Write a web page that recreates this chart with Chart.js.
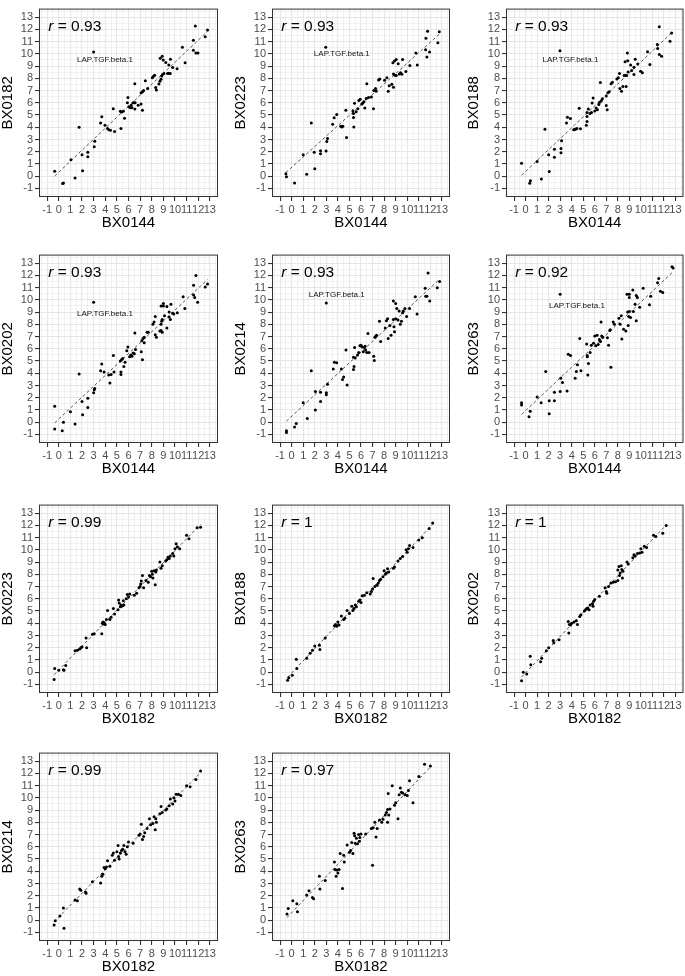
<!DOCTYPE html>
<html>
<head>
<meta charset="utf-8">
<script src="https://cdn.jsdelivr.net/npm/chart.js@4.4.1/dist/chart.umd.min.js"></script>
<style>
  html, body { margin: 0; padding: 0; background: #fff; }
  #fig { position: relative; width: 685px; height: 976px; }
  #fig canvas { position: absolute; }
</style>
</head>
<body>
<div id="fig"></div>
<script>
// ---- panel labels ----
const xTitles = ['BX0144', 'BX0144', 'BX0144', 'BX0144', 'BX0144', 'BX0144',
                 'BX0182', 'BX0182', 'BX0182', 'BX0182', 'BX0182'];
const yTitles = ['BX0182', 'BX0223', 'BX0188', 'BX0202', 'BX0214', 'BX0263',
                 'BX0223', 'BX0188', 'BX0202', 'BX0214', 'BX0263'];
const rValues = ['0.93', '0.93', '0.93', '0.93', '0.93', '0.92',
                 '0.99', '1', '1', '0.99', '0.97'];

// axis ticks (both axes share them)
const tickValues = [-1, 0, 1, 2, 3, 4, 5, 6, 7, 8, 9, 10, 11, 12, 13];
const minorValues = [-1.5, -0.5, 0.5, 1.5, 2.5, 3.5, 4.5, 5.5, 6.5, 7.5, 8.5, 9.5, 10.5, 11.5, 12.5, 13.5];
const axisMin = -1.7;
const axisMax = 13.7;

// outlier annotation (first six panels)
const outlierName = 'LAP.TGF.beta.1';
const outlierLabelX = [3.98, 4.34, 3.89, 3.98, 3.9, 4.45];
const outlierLabelY = [9.5, 10.0, 9.48, 8.85, 10.4, 9.5];

// ---- points, one list of [x, y] per panel ----
const p1 = [[-0.35,0.4],[0.4,-0.55],[0.33,-0.6],[1.05,1.35],[1.4,-0.15],[1.75,4.0],[2.0,1.75],[2.05,0.45],
  [2.5,1.95],[2.5,1.6],[3.05,2.4],[3.1,2.85],[3.0,10.15],[3.6,4.35],[3.7,4.85],[3.98,4.16],[4.2,3.9],
  [4.3,3.8],[4.45,3.75],[4.8,3.65],[4.69,5.52],[5.35,3.9],[5.3,5.3],[5.4,5.25],[5.55,5.3],[5.66,4.74],
  [5.9,6.0],[5.95,6.43],[6.03,5.67],[6.15,5.6],[6.23,5.8],[6.3,5.6],[6.4,6.0],[6.48,6.0],[6.57,6.0],
  [6.54,7.55],[6.55,5.5],[6.83,5.8],[7.08,5.9],[7.2,5.4],[7.08,6.82],[7.2,6.9],[7.3,7.0],[7.45,7.81],
  [7.65,7.16],[8.05,8.04],[8.13,8.15],[8.25,8.26],[8.34,7.26],[8.4,7.05],[8.62,7.53],[8.7,7.76],[8.8,7.92],
  [8.85,8.2],[8.93,8.31],[9.05,8.39],[8.73,9.64],[8.9,9.8],[8.99,9.5],[9.21,9.3],[9.36,8.39],[9.47,8.41],
  [9.59,8.39],[9.47,9.1],[9.61,9.56],[9.8,8.88],[10.18,8.78],[10.64,10.55],[10.87,9.27],[11.58,11.12],
  [11.75,12.27],[11.58,10.3],[11.8,10.08],[11.98,10.08],[12.6,11.4],[12.8,11.96]];
const p2 = [[-0.5,0.2],[-0.45,-0.05],[0.25,-0.55],[1.0,1.75],[1.3,0.15],[1.7,4.35],[1.95,1.95],[2.0,0.6],
  [2.5,2.08],[2.5,1.84],[2.98,2.05],[2.95,10.55],[3.04,2.83],[3.1,3.09],[3.55,4.25],[3.68,4.77],[3.9,5.05],
  [4.25,4.08],[4.34,4.03],[4.43,4.08],[4.69,5.39],[4.75,3.17],[5.3,5.34],[5.35,5.13],[5.35,4.8],[5.38,4.03],
  [5.44,5.97],[5.58,5.27],[5.73,5.52],[5.81,6.18],[5.93,6.3],[6.07,5.9],[6.16,5.98],[6.25,6.09],[6.33,5.57],
  [6.45,6.35],[6.5,7.55],[6.65,6.43],[6.9,6.48],[7.08,5.52],[7.11,7.0],[7.26,7.16],[7.31,6.95],[7.52,7.86],
  [7.63,7.94],[8.04,7.84],[8.24,8.04],[8.36,6.95],[8.44,7.4],[8.67,7.52],[8.81,7.27],[8.81,8.36],[8.93,8.26],
  [9.05,8.23],[8.76,9.27],[8.9,9.42],[9.05,9.53],[9.22,9.19],[9.31,8.36],[9.42,8.46],[9.54,8.33],[9.6,9.53],
  [9.88,8.56],[10.23,9.04],[10.75,10.08],[10.87,9.09],[11.59,10.34],[11.62,11.28],[11.76,11.85],[11.7,9.74],
  [11.93,10.16],[12.65,10.91],[12.77,11.8]];
const p3 = [[-0.35,1.05],[0.36,-0.58],[0.42,-0.37],[1.0,1.2],[1.37,-0.22],[1.68,3.83],[2.0,1.76],[2.05,0.38],
  [2.5,2.2],[2.5,1.55],[2.98,10.26],[3.07,2.26],[3.07,1.92],[3.12,2.89],[3.55,4.35],[3.63,4.81],[3.89,4.71],
  [4.17,3.8],[4.25,3.82],[4.37,3.85],[4.45,3.9],[4.65,5.55],[4.76,3.87],[5.27,4.16],[5.33,4.47],[5.33,4.87],
  [5.33,5.2],[5.44,5.49],[5.58,5.13],[5.72,5.2],[5.77,5.99],[5.86,6.4],[6.0,5.33],[6.12,5.57],[6.23,5.44],
  [6.35,5.86],[6.43,6.04],[6.49,7.66],[6.57,6.17],[6.66,6.33],[7.0,6.56],[7.0,5.78],[7.08,5.44],[7.14,6.82],
  [7.25,6.9],[7.42,7.56],[7.53,7.68],[7.92,7.94],[8.04,8.04],[8.15,8.39],[8.18,7.16],[8.32,6.95],[8.44,7.34],
  [8.55,8.23],[8.66,8.26],[8.77,8.23],[8.63,9.35],[8.72,7.34],[8.83,10.08],[8.86,9.43],[8.89,8.52],[9.11,9.09],
  [9.2,8.65],[9.4,8.91],[9.4,8.31],[9.51,9.56],[9.73,9.17],[9.98,8.57],[10.13,8.46],[10.58,10.18],[10.78,9.14],
  [11.43,10.76],[11.46,10.44],[11.6,12.22],[11.6,9.95],[11.8,9.8],[12.53,11.03],[12.67,11.7]];
const p4 = [[-0.35,1.3],[-0.35,-0.55],[0.3,-0.7],[0.4,0.0],[1.0,0.85],[1.4,-0.15],[1.75,3.95],[2.0,1.7],
  [2.05,0.6],[2.5,1.95],[2.5,1.2],[3.0,2.4],[3.05,2.65],[3.1,2.75],[3.0,9.8],[3.6,4.2],[3.7,4.75],[3.9,4.1],
  [4.3,3.85],[4.4,3.2],[4.5,3.9],[4.7,5.45],[4.75,4.1],[5.3,5.0],[5.35,4.1],[5.35,3.9],[5.4,5.1],[5.5,5.2],
  [5.6,4.55],[5.7,4.9],[5.85,5.85],[5.95,6.15],[6.1,5.35],[6.2,5.5],[6.3,5.4],[6.4,5.65],[6.5,5.6],[6.55,7.3],
  [6.6,5.95],[7.1,5.75],[7.2,5.1],[7.15,6.65],[7.25,6.85],[7.35,6.95],[7.35,6.5],[7.6,7.35],[7.7,7.35],
  [8.1,8.0],[8.2,8.2],[8.3,8.65],[8.3,7.15],[8.4,6.95],[8.7,7.45],[8.8,7.5],[8.8,8.0],[8.85,8.25],[8.9,8.4],
  [8.9,7.35],[8.8,9.5],[9.0,9.7],[9.0,9.5],[9.1,8.7],[9.3,9.45],[9.3,7.7],[9.5,8.6],[9.5,9.0],[9.6,8.4],
  [9.65,9.65],[9.8,8.9],[9.9,8.85],[10.2,8.95],[10.7,10.25],[10.85,9.3],[11.6,11.2],[11.6,10.4],[11.7,10.2],
  [11.8,12.0],[11.95,9.8],[12.6,11.05],[12.8,11.3]];
const p5 = [[-0.45,-0.7],[-0.45,-0.85],[0.25,-0.4],[0.4,-0.1],[1.0,1.6],[1.35,0.3],[1.7,4.2],[2.05,2.5],
  [2.05,1.0],[2.5,1.7],[2.5,2.45],[3.0,2.25],[3.0,2.4],[3.1,3.1],[3.0,9.75],[3.6,4.35],[3.7,4.9],[3.9,4.85],
  [4.3,4.35],[4.4,3.5],[4.5,3.7],[4.7,5.9],[4.8,3.05],[5.35,5.3],[5.35,4.3],[5.4,4.55],[5.45,6.1],[5.5,5.25],
  [5.7,5.5],[5.8,5.7],[5.9,6.25],[6.0,6.3],[6.1,6.15],[6.2,5.75],[6.3,6.1],[6.35,6.2],[6.4,5.9],[6.5,5.7],
  [6.6,7.25],[6.7,5.7],[7.1,5.4],[7.15,5.05],[7.2,6.95],[7.3,7.05],[7.35,7.1],[7.6,8.25],[7.7,6.6],[8.1,7.7],
  [8.2,8.3],[8.3,8.45],[8.35,6.85],[8.5,7.9],[8.6,7.1],[8.8,9.9],[8.8,8.4],[8.85,7.8],[8.9,7.4],[9.0,8.45],
  [9.0,9.7],[9.1,9.3],[9.2,8.35],[9.3,9.1],[9.4,8.0],[9.5,8.25],[9.6,8.95],[9.65,9.1],[9.8,9.3],[9.95,8.65],
  [10.2,9.3],[10.7,10.25],[10.85,8.85],[11.55,10.95],[11.6,10.3],[11.7,10.3],[11.8,12.2],[11.95,9.9],
  [12.6,11.0],[12.8,11.5]];
const p6 = [[-0.35,1.6],[-0.35,1.4],[0.3,0.45],[0.4,0.9],[1.0,2.05],[1.35,1.6],[1.75,4.15],[2.05,1.75],
  [2.05,0.7],[2.5,2.45],[2.5,1.75],[3.0,2.5],[3.05,3.6],[3.2,3.25],[3.0,10.45],[3.6,2.55],[3.7,5.55],
  [3.9,5.45],[4.3,3.6],[4.4,4.15],[4.5,4.7],[4.7,6.85],[4.8,4.2],[5.3,6.4],[5.35,5.45],[5.35,5.35],[5.4,3.85],
  [5.45,4.8],[5.6,5.7],[5.7,6.3],[5.9,6.45],[6.0,7.05],[6.1,6.25],[6.2,7.1],[6.3,6.35],[6.4,6.75],[6.5,6.6],
  [6.55,8.2],[6.6,7.05],[6.7,6.95],[7.1,6.9],[7.2,6.3],[7.3,7.5],[7.35,7.55],[7.4,4.5],[7.6,8.2],[7.7,8.0],
  [8.1,8.5],[8.2,8.0],[8.3,8.7],[8.35,6.8],[8.5,7.6],[8.7,7.45],[8.8,10.45],[8.85,9.0],[8.9,7.9],[8.95,8.65],
  [9.0,10.45],[9.0,10.2],[9.0,9.05],[9.1,8.55],[9.3,10.8],[9.35,9.05],[9.5,9.65],[9.6,8.3],[9.6,10.35],
  [9.7,10.2],[9.9,9.4],[10.2,10.95],[10.75,9.6],[10.85,10.3],[11.45,11.4],[11.55,11.75],[11.7,10.7],
  [11.9,10.6],[12.7,12.7],[12.8,12.6]];
const p7 = [[-0.4,-0.6],[-0.35,0.3],[0.0,0.15],[0.4,0.2],[0.45,0.15],[0.6,0.55],[1.4,1.75],[1.6,1.8],
  [1.8,1.9],[1.9,2.0],[2.0,2.05],[2.35,2.8],[2.4,2.0],[2.9,3.1],[3.05,3.15],[3.7,3.15],[3.75,4.0],[3.8,4.1],
  [3.85,3.95],[3.9,4.05],[4.0,3.9],[4.1,4.3],[4.2,5.05],[4.4,4.3],[4.5,4.5],[4.7,5.2],[4.8,4.75],[5.1,5.1],
  [5.15,5.9],[5.2,5.65],[5.3,5.35],[5.35,5.5],[5.4,5.4],[5.5,5.45],[5.55,5.85],[5.6,5.5],[5.8,6.0],[5.9,6.35],
  [6.0,6.15],[6.1,6.4],[6.5,6.3],[6.7,6.45],[6.9,6.9],[7.0,7.0],[7.05,7.2],[7.1,7.45],[7.2,7.9],[7.3,6.9],
  [7.5,7.5],[7.7,7.35],[7.8,7.9],[7.9,7.8],[8.0,8.25],[8.05,8.0],[8.1,7.7],[8.2,8.3],[8.3,7.15],[8.35,8.2],
  [8.4,8.35],[8.7,9.0],[8.8,8.5],[8.9,8.7],[9.2,9.1],[9.3,9.2],[9.4,9.4],[9.5,9.3],[9.6,9.5],[9.8,9.7],
  [9.9,9.5],[10.0,10.1],[10.1,10.5],[10.2,10.25],[10.4,10.1],[11.0,11.2],[11.2,10.9],[11.9,11.8],[12.2,11.85]];
const p8 = [[-0.35,-0.65],[-0.25,-0.45],[0.05,-0.25],[0.4,1.05],[0.45,0.3],[1.3,1.15],[1.6,1.55],[1.8,1.8],
  [2.0,2.15],[2.4,2.2],[2.45,1.85],[2.9,2.8],[3.7,3.8],[3.8,3.9],[3.9,3.75],[4.0,4.1],[4.1,3.85],[4.3,4.6],
  [4.5,4.3],[4.6,4.4],[4.8,5.05],[5.0,4.8],[5.2,5.4],[5.3,5.05],[5.4,5.2],[5.5,5.5],[5.6,5.35],[5.8,5.8],
  [5.9,5.9],[6.0,5.7],[6.1,6.25],[6.3,6.3],[6.5,6.5],[6.8,6.4],[6.9,6.6],[7.0,6.8],[7.05,7.65],[7.2,7.0],
  [7.4,7.1],[7.5,7.3],[7.6,7.5],[7.7,7.6],[7.9,7.8],[8.0,8.3],[8.1,8.0],[8.2,8.1],[8.3,8.45],[8.4,8.2],
  [8.8,8.5],[8.9,8.6],[9.2,9.1],[9.4,9.3],[9.6,9.45],[9.9,10.0],[10.0,9.8],[10.1,10.1],[10.2,10.35],
  [10.5,10.2],[11.0,10.8],[11.3,11.0],[11.9,11.75],[12.2,12.2]];
const p9 = [[-0.35,-0.7],[-0.2,0.0],[0.1,-0.15],[0.4,1.3],[0.45,0.6],[1.3,0.85],[1.4,1.15],[1.8,1.75],
  [2.0,2.0],[2.4,2.6],[2.45,2.4],[2.9,2.65],[3.7,4.15],[3.75,3.2],[3.8,3.9],[3.9,3.85],[4.0,4.0],[4.2,4.1],
  [4.4,4.2],[4.5,3.9],[4.7,4.55],[4.8,4.7],[5.1,5.0],[5.2,5.1],[5.3,5.2],[5.4,5.25],[5.5,5.1],[5.6,5.5],
  [5.8,5.6],[5.85,5.4],[5.9,5.8],[6.0,5.95],[6.4,6.2],[6.9,6.9],[7.0,6.6],[7.05,6.45],[7.2,7.0],[7.4,7.3],
  [7.6,7.35],[7.8,7.4],[8.0,7.5],[8.0,8.35],[8.1,8.65],[8.15,7.9],[8.2,8.1],[8.3,8.7],[8.35,8.4],[8.4,7.7],
  [8.45,8.25],[8.8,9.0],[8.9,8.85],[9.3,9.35],[9.4,9.6],[9.5,9.5],[9.7,9.7],[9.9,9.75],[10.0,10.1],
  [10.1,9.8],[10.3,10.3],[10.5,10.2],[11.1,11.2],[11.3,11.1],[11.9,11.35],[12.2,12.0]];
const p10 = [[-0.4,-0.4],[-0.3,-0.05],[0.1,0.35],[0.4,1.0],[0.45,-0.65],[1.4,1.65],[1.6,1.6],[1.8,2.55],
  [1.9,2.45],[2.3,2.3],[2.35,2.2],[2.9,3.15],[3.6,3.05],[3.7,3.6],[3.8,3.75],[3.9,4.3],[4.0,4.2],[4.1,4.35],
  [4.2,4.85],[4.4,4.4],[4.6,5.3],[4.7,5.5],[4.8,4.9],[5.0,5.6],[5.1,6.1],[5.15,5.2],[5.2,5.0],[5.3,5.5],
  [5.4,5.7],[5.5,5.8],[5.6,6.1],[5.7,5.6],[5.8,5.4],[5.9,6.0],[6.0,6.4],[6.4,6.3],[6.9,6.95],[7.0,7.05],
  [7.1,7.85],[7.2,6.6],[7.3,6.85],[7.4,7.15],[7.6,7.5],[7.8,8.3],[7.9,7.8],[8.1,7.9],[8.2,8.45],[8.3,7.4],
  [8.35,8.3],[8.4,8.0],[8.7,8.7],[8.8,9.3],[8.9,8.8],[9.2,9.0],[9.3,9.1],[9.5,9.35],[9.6,9.9],[9.8,9.5],
  [9.9,10.0],[10.0,9.75],[10.1,10.3],[10.3,10.3],[10.5,10.2],[11.0,11.0],[11.3,10.9],[11.8,11.5],[12.2,12.2]];
const p11 = [[-0.4,0.5],[-0.3,0.95],[0.1,1.6],[0.45,1.35],[0.5,0.7],[1.3,2.05],[1.5,2.4],[1.8,1.85],
  [1.9,1.75],[2.4,3.6],[2.45,2.55],[2.9,3.25],[3.7,4.75],[3.75,4.15],[3.85,3.6],[3.9,4.1],[4.0,3.85],
  [4.1,4.15],[4.2,5.45],[4.4,2.6],[4.5,5.3],[4.55,4.75],[4.8,6.15],[5.0,5.55],[5.1,5.7],[5.2,6.35],[5.3,5.45],
  [5.4,7.1],[5.45,6.9],[5.5,6.3],[5.6,6.7],[5.7,6.25],[5.8,7.0],[5.85,6.45],[5.9,6.75],[6.0,7.05],[6.4,7.05],
  [6.9,7.5],[7.0,4.5],[7.05,7.55],[7.2,8.0],[7.3,6.8],[7.4,7.5],[7.6,8.2],[7.8,8.0],[7.9,8.25],[8.1,8.6],
  [8.2,8.8],[8.3,9.05],[8.3,8.0],[8.35,10.35],[8.4,8.6],[8.5,9.1],[8.7,11.0],[8.9,9.4],[9.0,9.6],[9.2,8.3],
  [9.3,10.25],[9.4,10.8],[9.5,10.45],[9.6,10.4],[9.8,10.25],[10.0,10.2],[10.1,10.6],[10.2,11.4],[10.5,9.6],
  [11.0,11.75],[11.5,12.75],[12.0,12.6]];
const panelPoints = [p1, p2, p3, p4, p5, p6, p7, p8, p9, p10, p11];

// ---- page layout (3 columns x 4 rows) ----
const colLeft = [0, 228, 456];
const colWidth = [228, 228, 229];
const yAxisWidth = [39, 44, 50];
const plotWidth = [179, 178, 178];
const yTitlePad = [0.5, 5.5, 10.5];
const rowTop = [0, 246, 496, 744];
const canvasHeight = 232;
const xAxisHeight = 35;

const FONT = '"Liberation Sans", Arial, Helvetica, sans-serif';

// least squares line through a panel's points (the dashed lm fit)
function fitLine(pts) {
  const n = pts.length;
  let sx = 0, sy = 0, sxx = 0, sxy = 0;
  pts.forEach(([x, y]) => { sx += x; sy += y; sxx += x * x; sxy += x * y; });
  const slope = (n * sxy - sx * sy) / (n * sxx - sx * sx);
  const icpt = (sy - slope * sx) / n;
  const xs = pts.map(p => p[0]);
  const x0 = Math.min(...xs), x1 = Math.max(...xs);
  return [{ x: x0, y: icpt + slope * x0 }, { x: x1, y: icpt + slope * x1 }];
}

// r label, outlier label and panel border
const panelDecor = {
  id: 'panelDecor',
  afterDraw(chart, args, opts) {
    const { ctx, chartArea: a, scales: { x, y } } = chart;
    ctx.save();
    ctx.fillStyle = '#000';
    ctx.textBaseline = 'middle';
    ctx.textAlign = 'left';
    let px = x.getPixelForValue(-0.9);
    const py = y.getPixelForValue(12.2);
    ctx.font = 'italic 15.5px ' + FONT;
    ctx.fillText('r', px, py);
    px += ctx.measureText('r').width;
    ctx.font = '15.5px ' + FONT;
    ctx.fillText(' = ' + opts.r, px, py);

    if (opts.labelX !== undefined) {
      ctx.font = '8px ' + FONT;
      ctx.textAlign = 'center';
      ctx.fillStyle = '#111';
      ctx.fillText(outlierName, x.getPixelForValue(opts.labelX), y.getPixelForValue(opts.labelY));
    }

    ctx.strokeStyle = '#333';
    ctx.lineWidth = 1;
    ctx.strokeRect(a.left + 0.5, a.top + 0.5, a.width - 1, a.height - 1);
    ctx.restore();
  }
};

const allTicks = tickValues.concat(minorValues).sort((a, b) => a - b);

function axisOptions(title, isX, col) {
  return {
    type: 'linear',
    min: axisMin,
    max: axisMax,
    afterBuildTicks: s => { s.ticks = allTicks.map(v => ({ value: v })); },
    afterFit: s => {
      if (isX) s.height = xAxisHeight;
      else s.width = yAxisWidth[col];
    },
    border: { display: false },
    grid: {
      color: c => (Number.isInteger(c.tick.value) ? '#E6E6E6' : '#EDEDED'),
      lineWidth: c => (Number.isInteger(c.tick.value) ? 1.1 : 0.8),
      tickColor: c => (Number.isInteger(c.tick.value) ? '#333' : 'rgba(0,0,0,0)'),
      tickLength: 4,
      drawTicks: true
    },
    ticks: {
      autoSkip: false,
      maxRotation: 0,
      minRotation: 0,
      padding: 2,
      color: '#4D4D4D',
      font: { family: FONT, size: 11 },
      callback: v => (Number.isInteger(v) ? String(v) : '')
    },
    title: {
      display: true,
      text: title,
      color: '#000',
      font: { family: FONT, size: 15, lineHeight: 1 },
      padding: isX ? { top: 0, bottom: 1.5 } : { top: yTitlePad[col], bottom: 0 }
    }
  };
}

const fig = document.getElementById('fig');

panelPoints.forEach((pts, i) => {
  const col = i % 3;
  const row = Math.floor(i / 3);
  const canvas = document.createElement('canvas');
  canvas.width = colWidth[col];
  canvas.height = canvasHeight;
  canvas.style.left = colLeft[col] + 'px';
  canvas.style.top = rowTop[row] + 'px';
  canvas.style.width = colWidth[col] + 'px';
  canvas.style.height = canvasHeight + 'px';
  fig.appendChild(canvas);

  const rightPad = colWidth[col] - yAxisWidth[col] - plotWidth[col];

  new Chart(canvas.getContext('2d'), {
    type: 'scatter',
    data: {
      datasets: [
        {
          data: pts.map(([x, y]) => ({ x, y })),
          pointRadius: 1.5,
          pointBackgroundColor: '#000',
          pointBorderWidth: 0,
          pointHoverRadius: 1.5
        },
        {
          type: 'line',
          data: fitLine(pts),
          borderColor: '#444',
          borderWidth: 0.9,
          borderDash: [3, 2.5],
          pointRadius: 0,
          fill: false
        }
      ]
    },
    options: {
      responsive: false,
      animation: false,
      devicePixelRatio: 1,
      layout: { padding: { left: 0, right: rightPad, top: 1, bottom: 0 } },
      plugins: {
        legend: { display: false },
        tooltip: { enabled: false },
        panelDecor: {
          r: rValues[i],
          labelX: outlierLabelX[i],
          labelY: outlierLabelY[i]
        }
      },
      scales: {
        x: axisOptions(xTitles[i], true, col),
        y: axisOptions(yTitles[i], false, col)
      }
    },
    plugins: [panelDecor]
  });
});
</script>
</body>
</html>
